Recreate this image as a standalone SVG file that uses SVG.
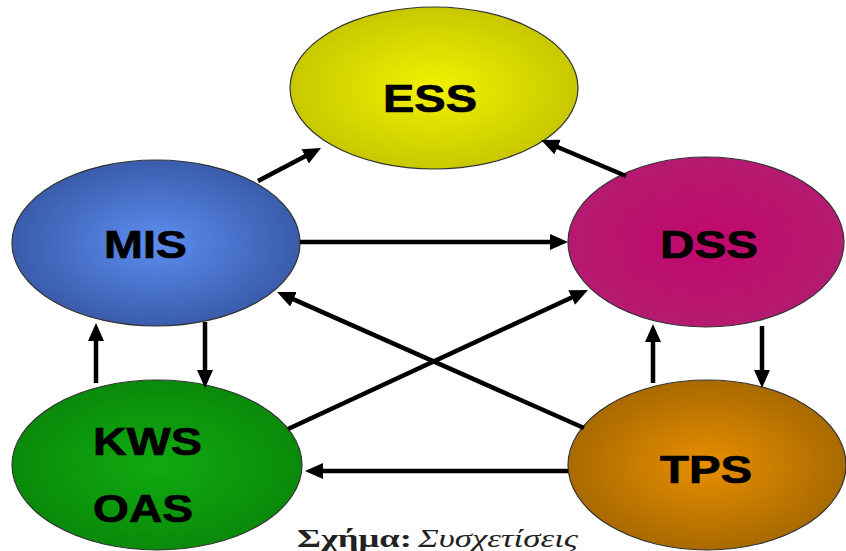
<svg xmlns="http://www.w3.org/2000/svg" width="846" height="551" viewBox="0 0 846 551">
<style>
.node{stroke:#333;stroke-width:1.2}
.lbl{font-family:"Liberation Sans",Arial,sans-serif;font-weight:bold;font-size:38px;fill:#000;stroke:#000;stroke-width:0.7}
.conn line{stroke:#000;stroke-width:4.5;marker-end:url(#ah)}
.cap{font-family:"Liberation Serif","Times New Roman",serif;font-size:25px;fill:#222}
</style>
<defs>
<marker id="ah" markerUnits="userSpaceOnUse" markerWidth="19" markerHeight="17" refX="6" refY="8" orient="auto" viewBox="0 0 19 17">
<path d="M0,0 L18,8 L0,16 z" fill="#000"/>
</marker>
<radialGradient id="gE" cx="50%" cy="50%" r="50%"><stop offset="0" stop-color="#f2f200"/><stop offset="1" stop-color="#c8c800"/></radialGradient>
<radialGradient id="gM" cx="50%" cy="50%" r="50%"><stop offset="0" stop-color="#5d8ef0"/><stop offset="1" stop-color="#3a5cac"/></radialGradient>
<radialGradient id="gD" cx="50%" cy="50%" r="50%"><stop offset="0" stop-color="#c0086c"/><stop offset="1" stop-color="#b51a70"/></radialGradient>
<radialGradient id="gK" cx="50%" cy="50%" r="50%"><stop offset="0" stop-color="#10aa10"/><stop offset="1" stop-color="#0a8a0a"/></radialGradient>
<radialGradient id="gT" cx="50%" cy="50%" r="50%"><stop offset="0" stop-color="#e88e00"/><stop offset="1" stop-color="#a86a00"/></radialGradient>
</defs>
<rect width="846" height="551" fill="#fff"/>
<g id="ESS"><ellipse class="node" cx="434" cy="88" rx="144" ry="81" fill="url(#gE)"/><text class="lbl" x="383" y="112" textLength="94" lengthAdjust="spacingAndGlyphs">ESS</text></g>
<g id="MIS"><ellipse class="node" cx="156" cy="243" rx="144" ry="83" fill="url(#gM)"/><text class="lbl" x="104" y="258" textLength="83" lengthAdjust="spacingAndGlyphs">MIS</text></g>
<g id="DSS"><ellipse class="node" cx="706" cy="242" rx="138" ry="85" fill="url(#gD)"/><text class="lbl" x="660" y="258" textLength="98" lengthAdjust="spacingAndGlyphs">DSS</text></g>
<g id="KWS"><ellipse class="node" cx="157" cy="465" rx="145" ry="85" fill="url(#gK)"/><text class="lbl" x="93" y="455" textLength="109" lengthAdjust="spacingAndGlyphs">KWS</text><text class="lbl" x="93" y="522" textLength="100" lengthAdjust="spacingAndGlyphs">OAS</text></g>
<g id="TPS"><ellipse class="node" cx="707" cy="465" rx="139" ry="85" fill="url(#gT)"/><text class="lbl" x="660" y="483" textLength="92" lengthAdjust="spacingAndGlyphs">TPS</text></g>
<g id="connectors" class="conn">
<line x1="258" y1="181" x2="310.4" y2="153.6"/>
<line x1="626" y1="176" x2="552.1" y2="144.7"/>
<line x1="300" y1="242" x2="556" y2="242"/>
<line x1="205" y1="322" x2="205" y2="376"/>
<line x1="96" y1="383" x2="96" y2="335"/>
<line x1="288" y1="429" x2="577.1" y2="295"/>
<line x1="584" y1="428" x2="288" y2="296.9"/>
<line x1="568" y1="471" x2="317" y2="471"/>
<line x1="762" y1="326" x2="762" y2="376"/>
<line x1="653" y1="383" x2="653" y2="336"/>
</g>
<g id="caption"><text class="cap" x="297" y="547" font-weight="bold" textLength="115" lengthAdjust="spacingAndGlyphs">Σχήμα:</text><text class="cap" x="418" y="547" font-style="italic" textLength="160" lengthAdjust="spacingAndGlyphs">Συσχετίσεις</text></g>
</svg>
